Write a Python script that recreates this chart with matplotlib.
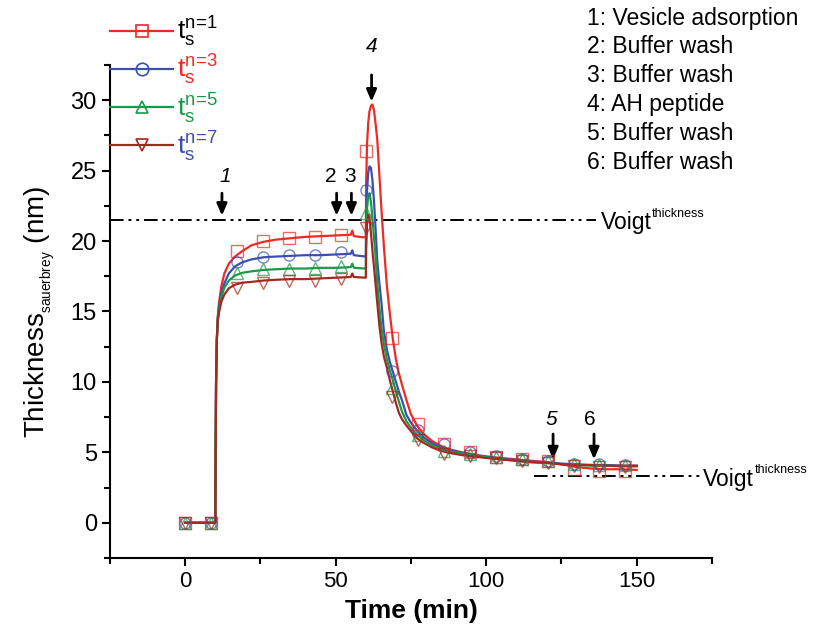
import numpy as np
import matplotlib.pyplot as plt

plt.rcParams['font.family'] = ['Liberation Sans', 'DejaVu Sans']
plt.rcParams['mathtext.fontset'] = 'custom'
plt.rcParams['mathtext.rm'] = 'Liberation Sans'
plt.rcParams['mathtext.it'] = 'Liberation Sans:italic'
plt.rcParams['mathtext.bf'] = 'Liberation Sans:bold'

# time base of the fitted curves (min)
time = [0, 10.0, 10.1, 10.25, 10.5, 10.8, 11.2, 12, 13, 14.5,
        16.5, 19, 22, 26, 30, 35, 40, 45, 50, 55,
        55.5, 56, 60.0, 60.1, 60.4, 60.8, 61.2, 61.7, 62.2, 62.7,
        63.2, 63.8, 64.5, 65.2, 66, 67, 68, 69, 70, 71,
        72, 73.5, 75, 77, 79, 82, 85, 88, 92, 96,
        100, 105, 110, 115, 120, 125, 130, 135, 140, 145, 150]

thick_n1 = [0, 0, 5, 10, 13.0, 14.6, 15.6, 16.8, 17.7, 18.4,
            18.9, 19.3, 19.7, 19.95, 20.1, 20.2, 20.3, 20.35, 20.4, 20.45,
            20.75, 20.35, 20.25, 24.0, 26.9, 28.4, 29.2, 29.6, 29.7, 29.3,
            28.4, 27.2, 24.7, 22.2, 19.6, 16.8, 14.8, 13.0, 11.6, 10.6,
            9.8, 8.7, 7.7, 6.9, 6.35, 5.8, 5.45, 5.2, 5.0, 4.85,
            4.7, 4.6, 4.5, 4.4, 4.3, 4.15, 3.95, 3.85, 3.8, 3.8, 3.75]
thick_n3 = [0, 0, 5, 10, 13.0, 14.5, 15.3, 16.3, 17.0, 17.7,
            18.2, 18.5, 18.7, 18.85, 18.9, 18.95, 19.0, 19.0, 19.05, 19.1,
            19.35, 19.0, 18.9, 21.8, 23.6, 24.9, 25.3, 25.2, 24.3, 22.9,
            21.0, 18.6, 17.0, 15.6, 13.6, 12.3, 11.4, 10.7, 10.0, 9.3,
            8.7, 7.65, 7.1, 6.55, 6.1, 5.65, 5.35, 5.15, 4.95, 4.8,
            4.7, 4.55, 4.45, 4.35, 4.3, 4.2, 4.15, 4.1, 4.1, 4.05, 4.05]
thick_n5 = [0, 0, 5, 10, 13.0, 14.4, 15.1, 16.0, 16.7, 17.2,
            17.55, 17.75, 17.85, 17.95, 18.0, 18.05, 18.05, 18.1, 18.1, 18.15,
            18.4, 18.1, 18.05, 20.5, 22.3, 23.2, 23.4, 22.8, 21.6, 20.3,
            19.0, 17.0, 15.3, 13.8, 12.7, 11.6, 10.8, 10.1, 9.3, 8.6,
            7.9, 7.2, 6.75, 6.25, 5.9, 5.5, 5.25, 5.05, 4.9, 4.75,
            4.65, 4.5, 4.4, 4.3, 4.25, 4.15, 4.1, 4.05, 4.05, 4.0, 4.0]
thick_n7 = [0, 0, 5, 10, 13.0, 14.3, 14.9, 15.7, 16.2, 16.65,
            16.9, 17.05, 17.1, 17.2, 17.25, 17.3, 17.3, 17.35, 17.4, 17.45,
            17.7, 17.45, 17.4, 19.6, 21.2, 21.9, 21.7, 20.6, 19.3, 18.2,
            17.0, 15.6, 14.0, 12.8, 11.8, 11.0, 10.1, 9.3, 8.5, 7.8,
            7.35, 6.9, 6.5, 6.0, 5.7, 5.35, 5.1, 4.95, 4.8, 4.7,
            4.6, 4.5, 4.4, 4.3, 4.25, 4.15, 4.1, 4.1, 4.05, 4.05, 4.05]

# measured points (markers)
mk_time = [0, 8.6, 17.2, 25.8, 34.4, 43.0, 51.6, 60.2, 68.8, 77.4,
           86.0, 94.6, 103.2, 111.8, 120.4, 129.0, 137.6, 146.2]
mk_n1 = [0, 0, 19.3, 20.0, 20.2, 20.3, 20.45, 26.4, 13.1, 7.0,
         5.6, 5.0, 4.7, 4.5, 4.4, 3.8, 3.7, 3.7]
mk_n3 = [0, 0, 18.5, 18.9, 19.0, 19.0, 19.2, 23.6, 10.8, 6.6,
         5.6, 5.0, 4.75, 4.55, 4.4, 4.2, 4.15, 4.1]
mk_n5 = [0, 0, 17.7, 18.0, 18.0, 18.1, 18.2, 22.0, 9.6, 6.2,
         5.1, 4.9, 4.7, 4.5, 4.35, 4.15, 4.1, 4.1]
mk_n7 = [0, 0, 16.7, 17.05, 17.15, 17.2, 17.3, 20.9, 8.9, 5.9,
         4.9, 4.75, 4.6, 4.4, 4.25, 4.0, 3.95, 3.95]

labels = [r'n\!=\!1', r'n\!=\!3', r'n\!=\!5', r'n\!=\!7']
line_colors = ['#ee2a24', '#3c4fb0', '#1a9a48', '#a3281f']
label_colors = ['black', '#ee2a24', '#1a9a48', '#3c4fb0']
markers = ['s', 'o', '^', 'v']

voigt_top = 21.5
voigt_bottom = 3.3

steps = ['1: Vesicle adsorption', '2: Buffer wash', '3: Buffer wash',
         '4: AH peptide', '5: Buffer wash', '6: Buffer wash']

# arrows for the injection steps
ann_labels = ['1', '2', '3', '4', '5', '6']
ann_t = [12.2, 50.3, 55.2, 61.9, 122.2, 135.8]
ann_tip = [21.8, 21.8, 21.8, 29.9, 4.5, 4.5]
ann_tail = [23.4, 23.4, 23.4, 31.8, 6.3, 6.3]
ann_text_t = [13.3, 48.3, 54.8, 62.0, 121.7, 134.4]
ann_text_v = [24.6, 24.6, 24.6, 33.8, 7.3, 7.3]
ann_italic = [True, False, False, True, True, False]

fig = plt.figure(figsize=(8.14, 6.35), dpi=100)
ax = fig.add_axes([0.1351, 0.1213, 0.7396, 0.7763])

curves = [thick_n1, thick_n3, thick_n5, thick_n7]
points = [mk_n1, mk_n3, mk_n5, mk_n7]
handles = []
for i in range(4):
    ax.plot(time, curves[i], color=line_colors[i], lw=1.6, zorder=3)
    ax.plot(mk_time, points[i], ls='none', marker=markers[i], ms=8,
            mfc='none', mec=line_colors[i], mew=1.0, alpha=0.7, zorder=4)
    h, = ax.plot([], [], color=line_colors[i], lw=1.6, marker=markers[i],
                 ms=9, mfc='none', mec=line_colors[i], mew=1.2)
    handles.append(h)

dash = (0, (7, 2.5, 1.5, 2.5, 1.5, 2.5))
ax.hlines(voigt_top, -25, 136.5, colors='k', lw=1.4, linestyle=dash, zorder=2)
ax.hlines(voigt_bottom, 116, 171, colors='k', lw=1.4, linestyle=dash, zorder=2)

for v, t0 in [(voigt_top, 138.0), (voigt_bottom, 172.0)]:
    vt = ax.text(t0, v - 0.2, 'Voigt', fontsize=16.5, ha='left', va='center')
    ax.annotate('thickness', xy=(1, 0.62), xycoords=vt, xytext=(0.5, 0),
                textcoords='offset points', fontsize=9, ha='left', va='bottom')

for lab, t_a, tip, tail, tx, tv, it in zip(ann_labels, ann_t, ann_tip, ann_tail,
                                           ann_text_t, ann_text_v, ann_italic):
    ax.annotate('', xy=(t_a, tip), xytext=(t_a, tail),
                arrowprops=dict(arrowstyle='-|>,head_length=0.7,head_width=0.3',
                                color='k', lw=2, shrinkA=0, shrinkB=0),
                annotation_clip=False)
    ax.text(tx, tv, lab, fontsize=15, ha='center', va='center',
            style='italic' if it else 'normal', clip_on=False)

for i, s in enumerate(steps):
    fig.text(587 / 814, 1 - (18 + 28.8 * i) / 635, s, fontsize=16.5,
             ha='left', va='center')

ax.set_xlim(-25, 175)
ax.set_ylim(-2.5, 32.5)
ax.set_xticks([0, 50, 100, 150])
ax.set_xticks([-25, 25, 75, 125, 175], minor=True)
ax.set_yticks([0, 5, 10, 15, 20, 25, 30])
ax.set_yticks(np.arange(-2.5, 33, 5), minor=True)
ax.tick_params(axis='x', which='major', labelsize=16, length=6, width=1.5, direction='out')
ax.tick_params(axis='y', which='major', labelsize=17, length=6, width=1.5, direction='out')
ax.tick_params(which='minor', length=4, width=1.5, direction='out')
for side in ['top', 'right']:
    ax.spines[side].set_visible(False)
for side in ['left', 'bottom']:
    ax.spines[side].set_linewidth(1.5)

ax.set_xlabel('Time (min)', fontsize=19, fontweight='bold', labelpad=5)
ax.set_ylabel(r'Thickness$_{{}_{\mathregular{sauerbrey}}}$ (nm)', fontsize=20, labelpad=10)

leg = fig.legend(handles, [r'$\mathregular{t_s^{%s}}$' % l for l in labels],
                 loc='upper left', bbox_to_anchor=(110 / 814, 1 - 15 / 635),
                 frameon=False, fontsize=19, handlelength=2.4, handletextpad=0.15,
                 labelspacing=0.15, borderpad=0, borderaxespad=0)
for txt, c in zip(leg.get_texts(), label_colors):
    txt.set_color(c)

fig.savefig('out.png', dpi=100)
